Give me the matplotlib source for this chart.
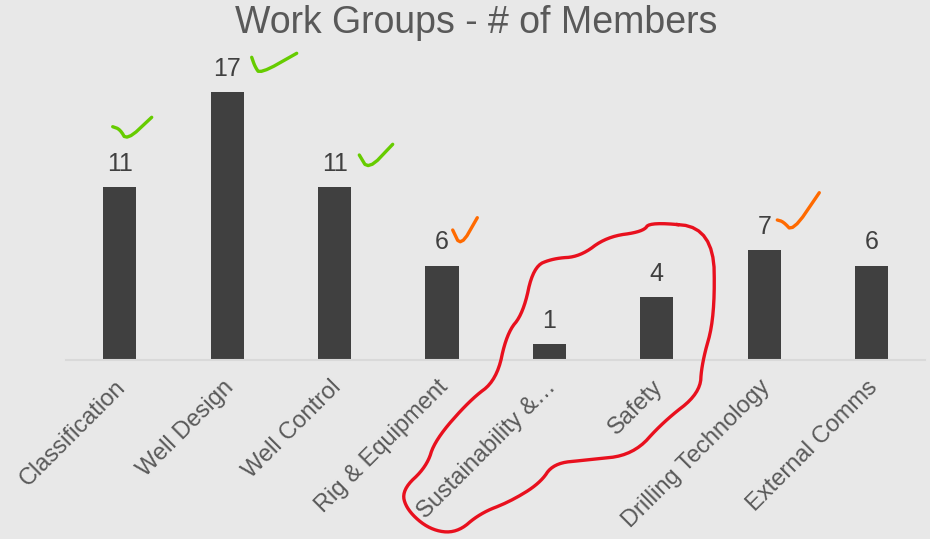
import numpy as np
import matplotlib.pyplot as plt
from matplotlib.transforms import ScaledTranslation

# datos del grafico
groups = ["Classification", "Well Design", "Well Control", "Rig & Equipment",
          "Sustainability &\u2026", "Safety", "Drilling Technology", "External Comms"]
members = [11, 17, 11, 6, 1, 4, 7, 6]

# trazos a mano sobre la imagen (pixeles de la figura, origen arriba a la izquierda)
green_ticks = [
    [(112.7, 126.7), (120, 129.3), (126.7, 140.7), (151.7, 117.3)],
    [(251.7, 57.3), (255, 66.7), (260, 74), (296.7, 53.3)],
    [(359.3, 155), (368.3, 170), (392.7, 144.3)],
]
orange_ticks = [
    [(452.7, 230), (460.7, 246.7), (477.3, 217.7)],
    [(777.3, 220), (783.3, 221.7), (792.7, 231.7), (819.3, 192.7)],
]
red_loop = [(650, 221.7), (713.3, 228.3), (715, 316.7), (701.7, 363.3), (700, 393.3),
            (663.3, 421.7), (633.3, 455), (586.7, 460), (553.3, 463.3), (540, 483.3),
            (510, 501.7), (480, 513.3), (456.7, 533.3), (430, 530), (406.7, 510),
            (401.7, 490), (426.7, 466.7), (435, 440), (470, 400), (496.7, 380),
            (506.7, 333.3), (523.3, 313.3), (533.3, 266.7), (553.3, 258.3), (580, 256.7),
            (606.7, 236.7), (643.3, 231.7), (650, 221.7)]

plt.rcParams['font.family'] = ['Liberation Sans', 'DejaVu Sans']
bg = "#e8e8e8"

fig = plt.figure(figsize=(9.3, 5.39), dpi=100, facecolor=bg)
ax = fig.add_axes([0.071, 0.332, 0.924, 0.526])
ax.set_facecolor(bg)

x = np.arange(len(groups))
bars = ax.bar(x, members, width=0.31, color="#404040", zorder=2)
ax.bar_label(bars, padding=8, fontsize=18, color="#404040")

ax.set_xlim(-0.5, len(groups) - 0.5)
ax.set_ylim(0, 18)
ax.set_yticks([])
for s in ["top", "right", "left"]:
    ax.spines[s].set_visible(False)
ax.spines["bottom"].set_color("#d9d9d9")
ax.spines["bottom"].set_linewidth(1.5)

ax.set_xticks(x)
ax.set_xticklabels(groups, rotation=45, ha="right", rotation_mode="anchor",
                   fontsize=17, color="#595959")
ax.tick_params(axis="x", length=0, pad=13)
shift = ScaledTranslation(-5 / 100, 2 / 100, fig.dpi_scale_trans)
for lab in ax.get_xticklabels():
    lab.set_transform(lab.get_transform() + shift)

fig.text(0.512, 0.958, "Work Groups - # of Members", ha="center", va="center",
         fontsize=27, color="#595959")

# capa para la tinta a mano
ink = fig.add_axes([0, 0, 1, 1], facecolor="none")
ink.set_xlim(0, 930)
ink.set_ylim(539, 0)
ink.axis("off")


def smooth(pts, n=3, closed=False):
    p = np.array(pts, dtype=float)
    for _ in range(n):
        q = p[:-1] * 0.75 + p[1:] * 0.25
        r = p[:-1] * 0.25 + p[1:] * 0.75
        new = np.empty((2 * len(q), 2))
        new[0::2] = q
        new[1::2] = r
        if closed:
            p = np.vstack([new, new[:1]])
        else:
            p = np.vstack([p[:1], new, p[-1:]])
    return p


for t in green_ticks:
    s = smooth(t, 2)
    ink.plot(s[:, 0], s[:, 1], color="#66cc00", lw=2.4, solid_capstyle="round",
             solid_joinstyle="round")
for t in orange_ticks:
    s = smooth(t, 2)
    ink.plot(s[:, 0], s[:, 1], color="#ff6a00", lw=2.4, solid_capstyle="round",
             solid_joinstyle="round")
s = smooth(red_loop, 3, closed=True)
ink.plot(s[:, 0], s[:, 1], color="#e8101e", lw=2.4, solid_joinstyle="round")

fig.savefig("out.png", dpi=100, facecolor=bg)
